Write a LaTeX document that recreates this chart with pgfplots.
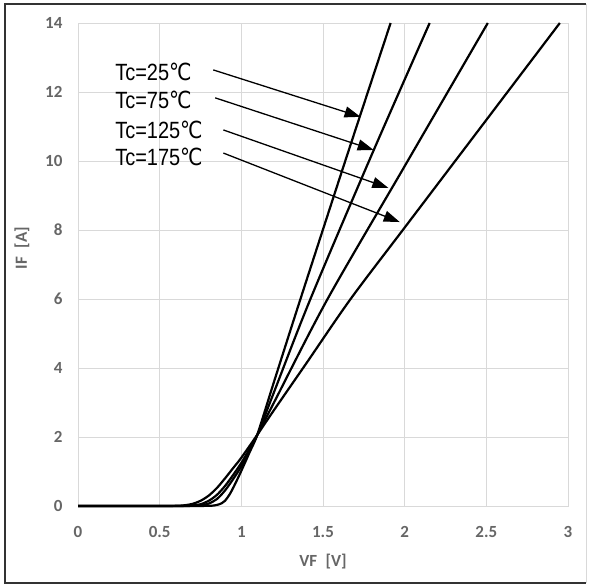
\documentclass[border=0pt]{standalone}
\usepackage{pgfplots}
\pgfplotsset{compat=1.18}
\usetikzlibrary{arrows.meta}
\usepackage{fontspec}
\setmainfont{Carlito}
\newfontfamily\lblfont{Liberation Sans}
\newfontfamily\symfont{DejaVu Sans}
\definecolor{gridgray}{HTML}{D9D9D9}
\definecolor{ticktext}{HTML}{666666}
\newcommand{\degC}{{\symfont ℃}}
\newcommand{\tclabel}[1]{\scalebox{0.85}[1]{\fontsize{23.5}{26}\lblfont Tc=#1\degC}}

\begin{document}
\begin{tikzpicture}[x=1pt,y=1pt]
\path[use as bounding box] (0,0) rectangle (590,586);
\draw[line width=1.8pt,color=black!80] (586,582) -- (5,582) -- (5,3) -- (586,3);
\draw[line width=0.8pt,color=black!15] (586,582) -- (586,3);

\begin{axis}[
    at={(78pt,80pt)}, anchor=south west,
    scale only axis,
    width=490pt, height=483pt,
    xmin=0, xmax=3, ymin=0, ymax=14,
    xtick={0,0.5,...,3},
    ytick={0,2,...,14},
    grid=major,
    major grid style={gridgray, line width=0.9pt},
    axis line style={gridgray, line width=0.9pt},
    major tick length=0pt,
    tick label style={font=\fontsize{17}{20}\selectfont\bfseries, color=ticktext,
        /pgf/number format/assume math mode=true},
    xticklabel style={yshift=-17pt},
    yticklabel style={xshift=-12pt},
    clip=false,
]
% Tc=25
\addplot[black, line width=2.2pt, smooth] coordinates {
(0,0) (0.6,0) (0.8,0.005) (0.85,0.03) (0.88,0.08) (0.9,0.15) (0.93,0.35) (0.96,0.62)
(1.0,1.02) (1.05,1.55) (1.1,2.1) (1.2,3.6) (1.362,6.0) (1.65,10.2) (1.914,14.0)};
% Tc=75
\addplot[black, line width=2.2pt, smooth] coordinates {
(0,0) (0.6,0) (0.7,0.005) (0.75,0.02) (0.8,0.07) (0.85,0.2) (0.9,0.45) (0.95,0.78)
(1.0,1.15) (1.05,1.6) (1.1,2.08) (1.2,3.3) (1.423,6.0) (1.8,10.2) (2.153,14.0)};
% Tc=125
\addplot[black, line width=2.2pt, smooth] coordinates {
(0,0) (0.55,0) (0.65,0.003) (0.7,0.015) (0.75,0.05) (0.8,0.15) (0.85,0.32) (0.9,0.58)
(0.95,0.9) (1.0,1.25) (1.05,1.65) (1.1,2.08) (1.2,3.0) (1.528,6.0) (2.0,9.85) (2.509,14.0)};
% Tc=175
\addplot[black, line width=2.2pt, smooth] coordinates {
(0,0) (0.5,0) (0.6,0.005) (0.65,0.02) (0.7,0.06) (0.75,0.15) (0.8,0.3) (0.85,0.52)
(0.9,0.8) (0.95,1.1) (1.0,1.4) (1.1,2.08) (1.2,2.78) (1.4,4.15) (1.669,6.0) (2.0,8.07)
(2.5,11.19) (2.95,14.0)};

\draw[black, line width=1.3pt, -{Triangle[length=16pt,width=11pt]}] (axis cs:0.828,12.64) -- (axis cs:1.73,11.28);
\draw[black, line width=1.3pt, -{Triangle[length=16pt,width=11pt]}] (axis cs:0.84,11.83) -- (axis cs:1.81,10.32);
\draw[black, line width=1.3pt, -{Triangle[length=16pt,width=11pt]}] (axis cs:0.89,10.9) -- (axis cs:1.90,9.22);
\draw[black, line width=1.3pt, -{Triangle[length=16pt,width=11pt]}] (axis cs:0.89,10.23) -- (axis cs:1.97,8.23);

\node[anchor=west, inner sep=0pt] at (axis cs:0.227,12.58) {\tclabel{25}};
\node[anchor=west, inner sep=0pt] at (axis cs:0.227,11.77) {\tclabel{75}};
\node[anchor=west, inner sep=0pt] at (axis cs:0.227,10.90) {\tclabel{125}};
\node[anchor=west, inner sep=0pt] at (axis cs:0.227,10.12) {\tclabel{175}};
\end{axis}

\node[rotate=90, color=ticktext, font=\fontsize{17}{20}\selectfont\bfseries] at (22,338) {IF\enspace[A]};
\node[color=ticktext, font=\fontsize{17}{20}\selectfont\bfseries] at (323,24) {VF\enspace[V]};
\end{tikzpicture}
\end{document}
